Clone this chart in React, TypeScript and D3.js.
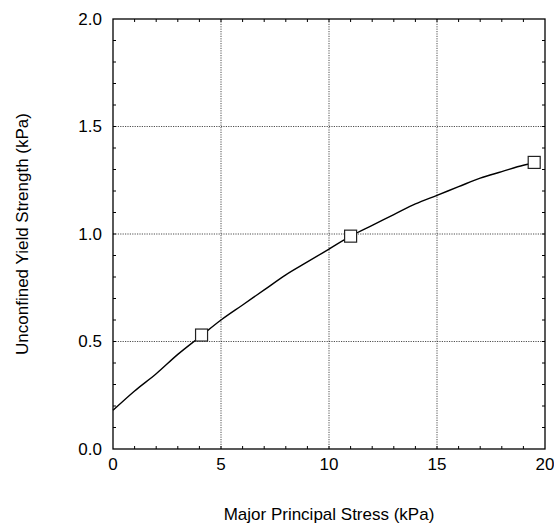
import React, { useRef, useEffect } from 'react';
import * as d3 from 'd3';

// curve
const curveX = [0, 1, 2, 3, 4, 5, 6, 7, 8, 9, 10, 11, 12, 13, 14, 15, 16, 17, 18, 19, 19.5];
const curveY = [0.18, 0.27, 0.35, 0.44, 0.52, 0.6, 0.67, 0.74, 0.81, 0.87, 0.93, 0.99, 1.04, 1.09, 1.14, 1.18, 1.22, 1.26, 1.29, 1.32, 1.33];

// measured points
const pointX = [4.1, 11, 19.5];
const pointY = [0.53, 0.99, 1.333];

const xTicks = [0, 5, 10, 15, 20];
const yTicks = [0, 0.5, 1.0, 1.5, 2.0];

const width = 554;
const height = 529;

const App: React.FC = () => {
  const svgRef = useRef<SVGSVGElement>(null);

  useEffect(() => {
    if (!svgRef.current) return;
    const svg = d3.select(svgRef.current);
    svg.selectAll('*').remove();

    const margin = { top: 19, right: 9, bottom: 80, left: 113 };
    const innerWidth = width - margin.left - margin.right;
    const innerHeight = height - margin.top - margin.bottom;
    const font = 'Liberation Sans, Arial, sans-serif';

    const x = d3.scaleLinear().domain([0, 20]).range([0, innerWidth]);
    const y = d3.scaleLinear().domain([0, 2]).range([innerHeight, 0]);

    const g = svg
      .append('g')
      .attr('transform', `translate(${margin.left},${margin.top})`);

    // grid lines
    const grid = g.append('g');
    grid
      .selectAll('.gx')
      .data(xTicks.slice(1, -1))
      .enter()
      .append('line')
      .attr('x1', (d) => x(d))
      .attr('x2', (d) => x(d))
      .attr('y1', 0)
      .attr('y2', innerHeight)
      .attr('stroke', '#222')
      .attr('stroke-width', 0.8)
      .attr('stroke-dasharray', '1.2,1.2');
    grid
      .selectAll('.gy')
      .data(yTicks.slice(1, -1))
      .enter()
      .append('line')
      .attr('x1', 0)
      .attr('x2', innerWidth)
      .attr('y1', (d) => y(d))
      .attr('y2', (d) => y(d))
      .attr('stroke', '#222')
      .attr('stroke-width', 0.8)
      .attr('stroke-dasharray', '1.2,1.2');

    // minor ticks, pointing inward on all four sides
    const xMinor = d3.range(1, 20);
    const yMinor = d3.range(1, 20).map((d) => d / 10);
    const tickLen = 3;
    const ticks = g.append('g').attr('stroke', '#000').attr('stroke-width', 1);
    xMinor.forEach((v) => {
      ticks.append('line').attr('x1', x(v)).attr('x2', x(v)).attr('y1', innerHeight).attr('y2', innerHeight - tickLen);
      ticks.append('line').attr('x1', x(v)).attr('x2', x(v)).attr('y1', 0).attr('y2', tickLen);
    });
    yMinor.forEach((v) => {
      ticks.append('line').attr('x1', 0).attr('x2', tickLen).attr('y1', y(v)).attr('y2', y(v));
      ticks.append('line').attr('x1', innerWidth).attr('x2', innerWidth - tickLen).attr('y1', y(v)).attr('y2', y(v));
    });

    // frame
    g.append('rect')
      .attr('width', innerWidth)
      .attr('height', innerHeight)
      .attr('fill', 'none')
      .attr('stroke', '#000')
      .attr('stroke-width', 1.3);

    // tick labels
    g.selectAll('.xl')
      .data(xTicks)
      .enter()
      .append('text')
      .attr('x', (d) => x(d))
      .attr('y', innerHeight + 21)
      .attr('text-anchor', 'middle')
      .attr('font-family', font)
      .attr('font-size', 17)
      .text((d) => d3.format('d')(d));

    g.selectAll('.yl')
      .data(yTicks)
      .enter()
      .append('text')
      .attr('x', -11)
      .attr('y', (d) => y(d))
      .attr('dy', '0.35em')
      .attr('text-anchor', 'end')
      .attr('font-family', font)
      .attr('font-size', 17)
      .text((d) => d3.format('.1f')(d));

    // curve
    const line = d3
      .line<number>()
      .x((_, i) => x(curveX[i]))
      .y((d) => y(d))
      .curve(d3.curveMonotoneX);
    g.append('path')
      .datum(curveY)
      .attr('d', line)
      .attr('fill', 'none')
      .attr('stroke', '#000')
      .attr('stroke-width', 1.4);

    // markers
    const size = 12;
    g.selectAll('.pt')
      .data(pointY)
      .enter()
      .append('rect')
      .attr('x', (_, i) => x(pointX[i]) - size / 2)
      .attr('y', (d) => y(d) - size / 2)
      .attr('width', size)
      .attr('height', size)
      .attr('fill', '#fff')
      .attr('stroke', '#222')
      .attr('stroke-width', 1.2);

    // axis titles
    svg
      .append('text')
      .attr('x', margin.left + innerWidth / 2)
      .attr('y', 520)
      .attr('text-anchor', 'middle')
      .attr('font-family', font)
      .attr('font-size', 17)
      .text('Major Principal Stress (kPa)');

    svg
      .append('text')
      .attr('transform', `translate(28,${margin.top + innerHeight / 2}) rotate(-90)`)
      .attr('text-anchor', 'middle')
      .attr('font-family', font)
      .attr('font-size', 17)
      .text('Unconfined Yield Strength (kPa)');
  }, []);

  return (
    <svg
      ref={svgRef}
      width={width}
      height={height}
      style={{ position: 'absolute', left: 0, top: 0, background: '#fff' }}
    />
  );
};

export default App;
